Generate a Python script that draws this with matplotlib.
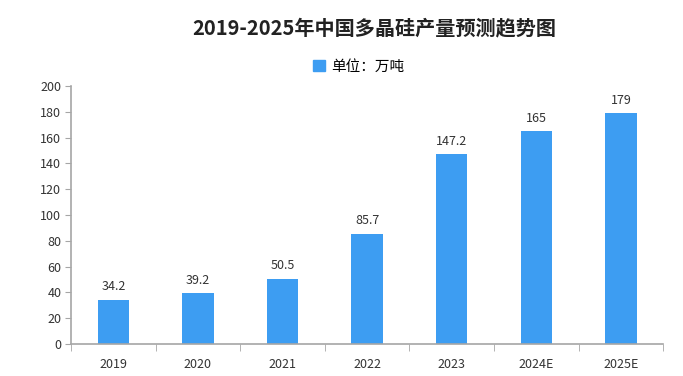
import matplotlib
matplotlib.use("Agg")
import matplotlib.pyplot as plt
from matplotlib.patches import Patch

plt.rcParams['font.family'] = ['Noto Sans CJK SC', 'DejaVu Sans']

categories = ["2019", "2020", "2021", "2022", "2023", "2024E", "2025E"]
values = [34.2, 39.2, 50.5, 85.7, 147.2, 165, 179]
labels = ["34.2", "39.2", "50.5", "85.7", "147.2", "165", "179"]
title = "2019-2025年中国多晶硅产量预测趋势图"
legend_label = "单位：万吨"

bar_color = "#3d9df2"
axis_color = "#a6a6a6"
text_color = "#333333"

fig = plt.figure(figsize=(6.83, 3.76), dpi=100)
ax = fig.add_axes([0.104, 0.085, 0.867, 0.686])

x = list(range(len(categories)))
bars = ax.bar(x, values, width=0.37, color=bar_color, zorder=2)
for xi, v, lab in zip(x, values, labels):
    ax.text(xi, v + 5, lab, ha="center", va="bottom", fontsize=9, color=text_color)

ax.set_xlim(-0.5, len(categories) - 0.5)
ax.set_ylim(0, 200)
ax.set_yticks(range(0, 201, 20))
ax.tick_params(axis="y", labelsize=9, colors=axis_color, labelcolor=text_color, length=4, direction="out", pad=3)
ax.set_xticks(x)
ax.set_xticklabels(categories, fontsize=9, color=text_color)
ax.tick_params(axis="x", length=0, pad=10)
# boundary ticks on x axis
ax.set_xticks([i - 0.5 for i in range(len(categories) + 1)], minor=True)
ax.tick_params(axis="x", which="minor", length=5, color=axis_color, direction="out")

for s in ["top", "right"]:
    ax.spines[s].set_visible(False)
for s in ["left", "bottom"]:
    ax.spines[s].set_color(axis_color)
    ax.spines[s].set_linewidth(1.2)

fig.text(0.548, 0.925, title, ha="center", va="center", fontsize=14.5, fontweight="bold", color="#222222")
fig.legend(handles=[Patch(color=bar_color)], labels=[legend_label], loc="center",
           bbox_to_anchor=(0.525, 0.822), frameon=False, fontsize=10.5,
           handlelength=0.8, handleheight=0.8, handletextpad=0.4)

fig.savefig("out.png", dpi=100)
